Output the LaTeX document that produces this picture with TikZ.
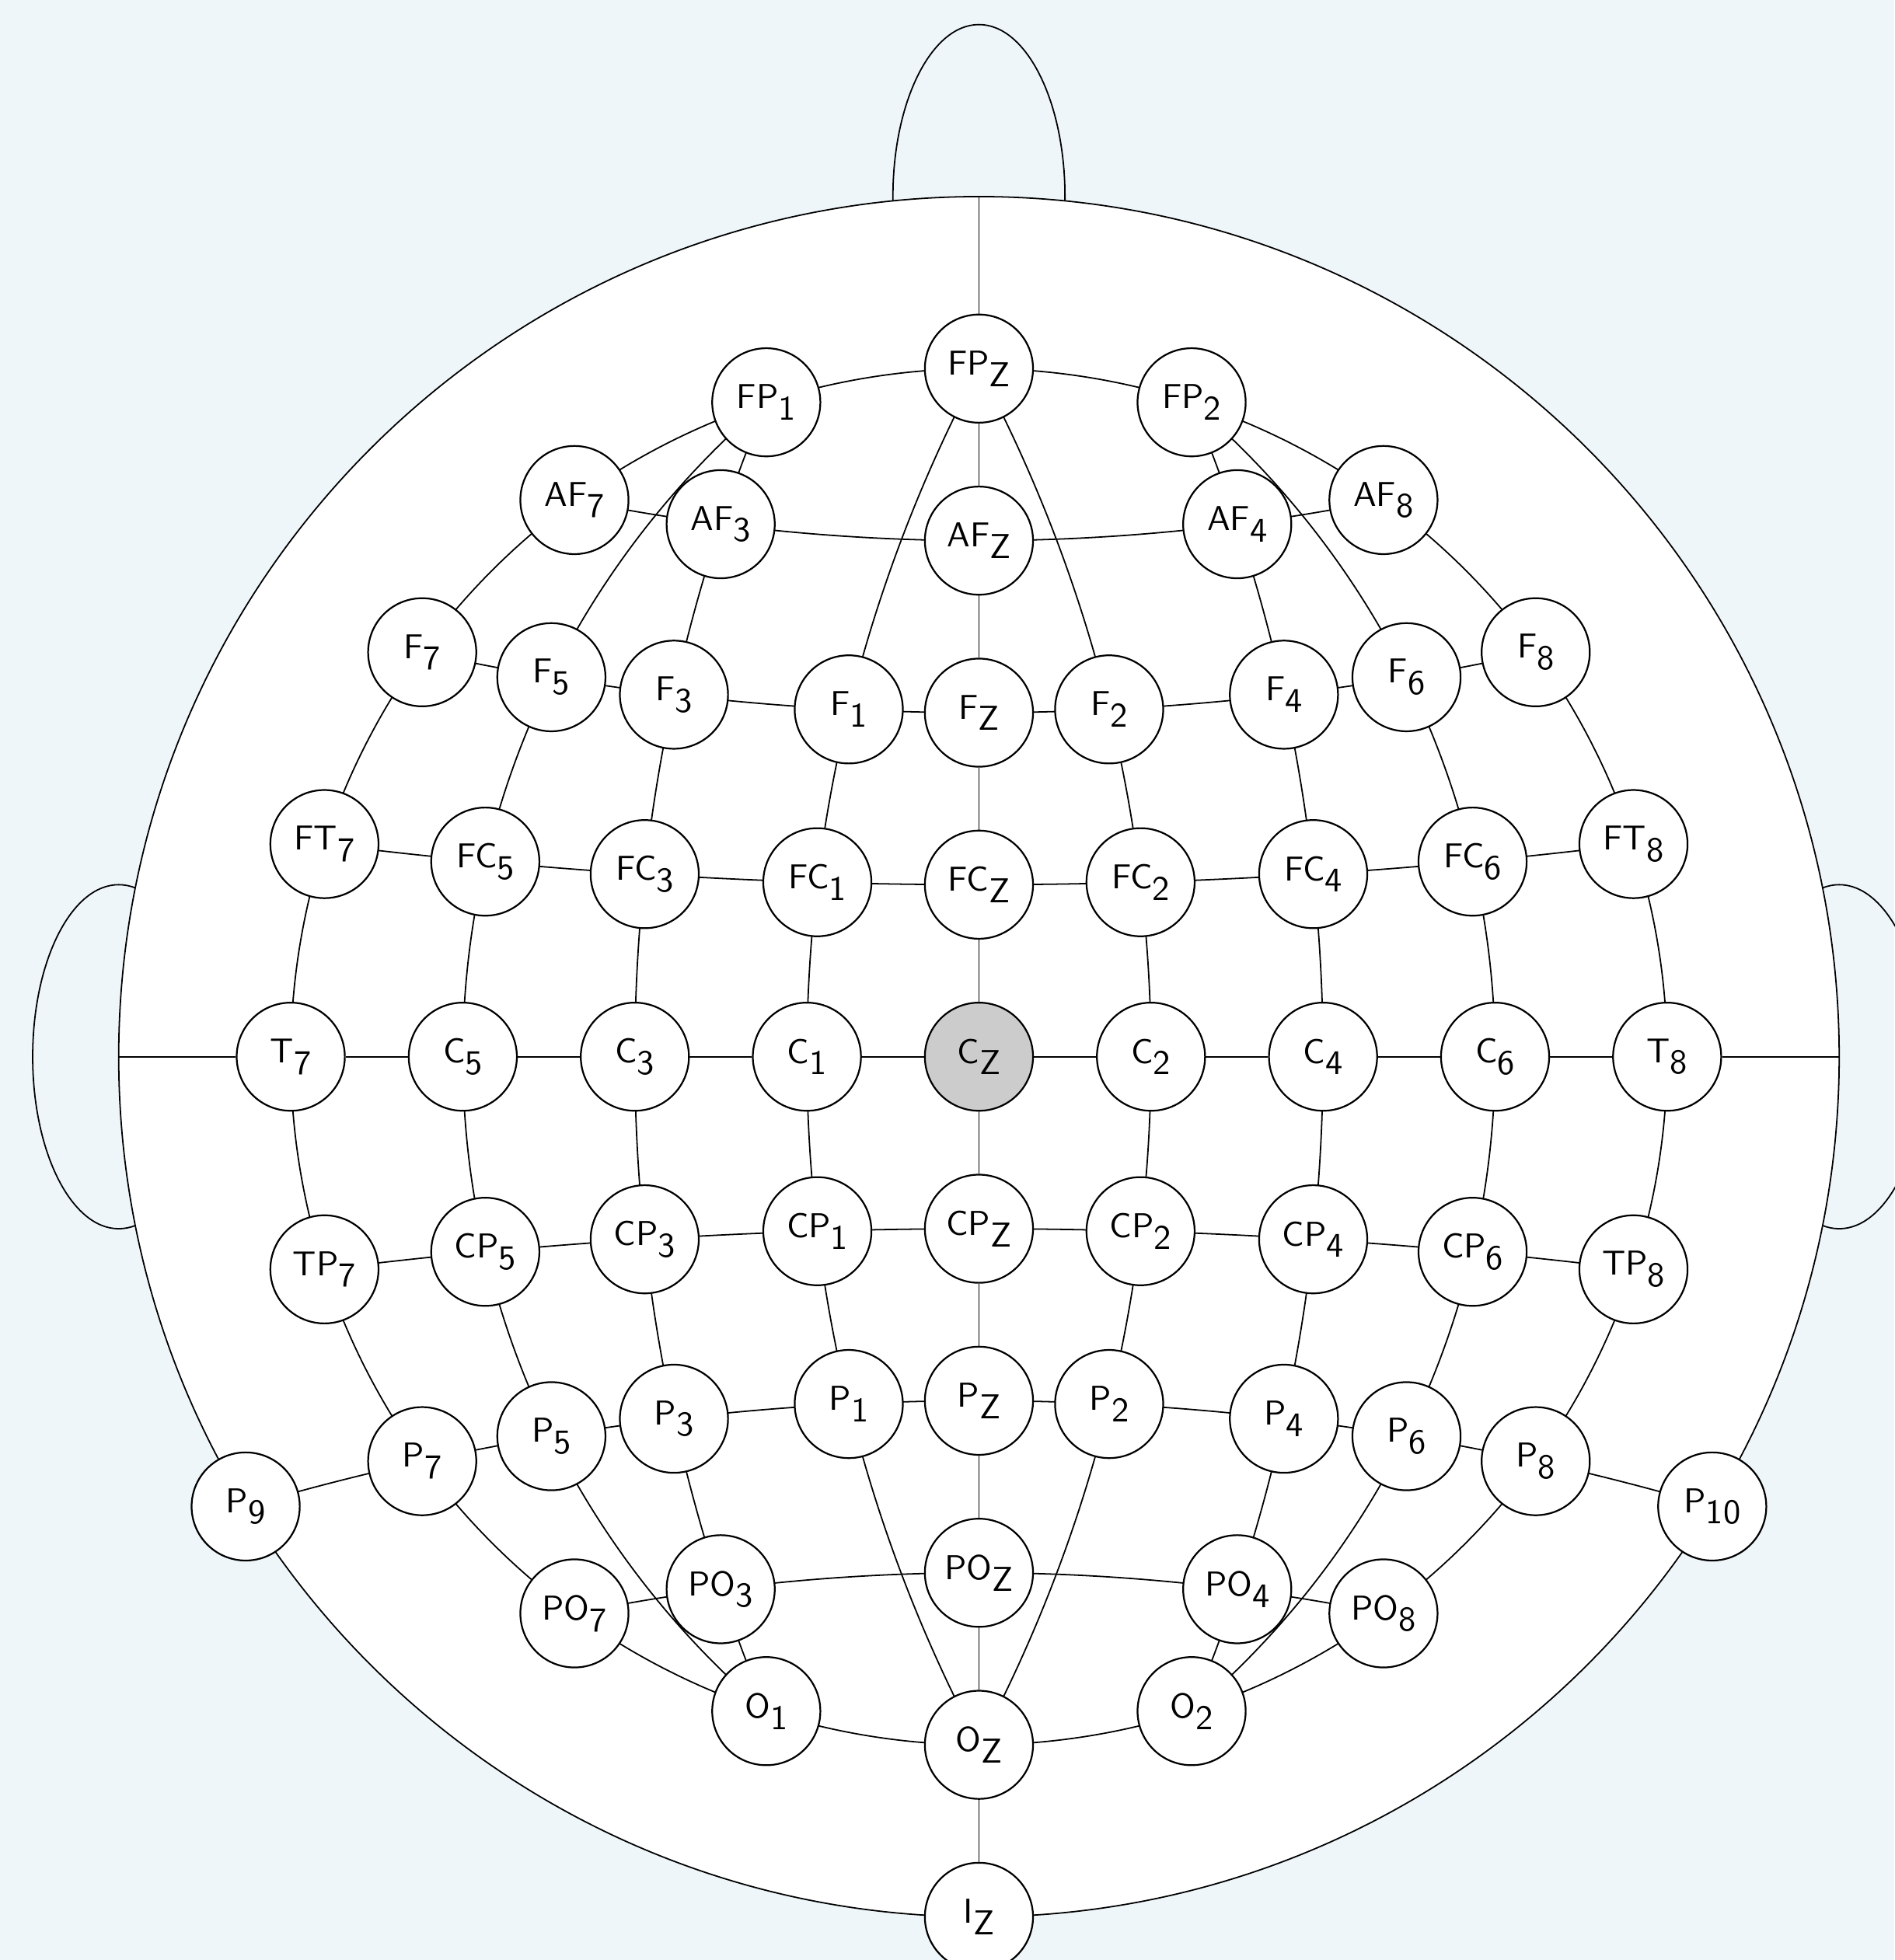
\documentclass[tikz,border=0pt]{standalone}
\usepackage{tikz}
\definecolor{bgblue}{RGB}{238,246,250}
\pgfdeclarelayer{headlayer}
\pgfdeclarelayer{linklayer}
\pgfsetlayers{headlayer,linklayer,main}
\newcommand\eeglab[2]{#1\raisebox{-3.3pt}{#2}}
\tikzset{
  electrode/.style={circle, draw, fill=white, minimum size=1.1cm, inner sep=1pt, font=\sffamily, line width=0.5pt},
  bendR/.style={bend right=#1, looseness=0.855},
  bendL/.style={bend left=#1, looseness=0.855},
}
\begin{document}
\begin{tikzpicture}[x=1.75cm, y=1.75cm, line width=0.5pt]
\useasboundingbox (-5.690,-5.251) rectangle (5.320,6.143);
\begin{pgfonlayer}{headlayer}
  \fill[bgblue] (-5.690,-5.251) rectangle (5.320,6.143);
  \draw (-5,0) ellipse [x radius=0.5, y radius=1];
  \draw (5,0) ellipse [x radius=0.5, y radius=1];
  \draw (0,5) ellipse [x radius=0.5, y radius=1];
  \draw[fill=white] (0,0) circle [radius=5];
\end{pgfonlayer}
\coordinate (headtop) at (0,5);
\coordinate (headleft) at (-5,0);
\coordinate (headright) at (5,0);
% midline
\node[electrode] (FPz) at (0,4) {\eeglab{FP}{Z}};
\node[electrode] (AFz) at (0,3) {\eeglab{AF}{Z}};
\node[electrode] (Fz) at (0,2) {\eeglab{F}{Z}};
\node[electrode] (FCz) at (0,1) {\eeglab{FC}{Z}};
\node[electrode, fill=gray!40] (Cz) at (0,0) {\eeglab{C}{Z}};
\node[electrode] (CPz) at (0,-1) {\eeglab{CP}{Z}};
\node[electrode] (Pz) at (0,-2) {\eeglab{P}{Z}};
\node[electrode] (POz) at (0,-3) {\eeglab{PO}{Z}};
\node[electrode] (Oz) at (0,-4) {\eeglab{O}{Z}};
\node[electrode] (Iz) at (0,-5) {\eeglab{I}{Z}};
% FP
\node[electrode] (FP1) at (108:4) {\eeglab{FP}{1}};
\node[electrode] (FP2) at (72:4) {\eeglab{FP}{2}};
% AF
\node[electrode] (AF7) at (126:4) {\eeglab{AF}{7}};
\node[electrode] (AF3) at (-1.5012,3.0956) {\eeglab{AF}{3}};
\node[electrode] (AF4) at (1.5012,3.0956) {\eeglab{AF}{4}};
\node[electrode] (AF8) at (54:4) {\eeglab{AF}{8}};
% F
\node[electrode] (F7) at (144:4) {\eeglab{F}{7}};
\node[electrode] (F5) at (-2.4852,2.2061) {\eeglab{F}{5}};
\node[electrode] (F3) at (-1.7727,2.1045) {\eeglab{F}{3}};
\node[electrode] (F1) at (-0.7567,2.0190) {\eeglab{F}{1}};
\node[electrode] (F2) at (0.7567,2.0190) {\eeglab{F}{2}};
\node[electrode] (F4) at (1.7727,2.1045) {\eeglab{F}{4}};
\node[electrode] (F6) at (2.4852,2.2061) {\eeglab{F}{6}};
\node[electrode] (F8) at (36:4) {\eeglab{F}{8}};
% FC
\node[electrode] (FT7) at (162:4) {\eeglab{FT}{7}};
\node[electrode] (FC5) at (-2.8693,1.1341) {\eeglab{FC}{5}};
\node[electrode] (FC3) at (-1.9427,1.0614) {\eeglab{FC}{3}};
\node[electrode] (FC1) at (-0.9393,1.0143) {\eeglab{FC}{1}};
\node[electrode] (FC2) at (0.9393,1.0143) {\eeglab{FC}{2}};
\node[electrode] (FC4) at (1.9427,1.0614) {\eeglab{FC}{4}};
\node[electrode] (FC6) at (2.8693,1.1341) {\eeglab{FC}{6}};
\node[electrode] (FT8) at (18:4) {\eeglab{FT}{8}};
% C
\node[electrode] (T7) at (-4,0) {\eeglab{T}{7}};
\node[electrode] (C5) at (-3,0) {\eeglab{C}{5}};
\node[electrode] (C3) at (-2,0) {\eeglab{C}{3}};
\node[electrode] (C1) at (-1,0) {\eeglab{C}{1}};
\node[electrode] (C2) at (1,0) {\eeglab{C}{2}};
\node[electrode] (C4) at (2,0) {\eeglab{C}{4}};
\node[electrode] (C6) at (3,0) {\eeglab{C}{6}};
\node[electrode] (T8) at (4,0) {\eeglab{T}{8}};
% CP
\node[electrode] (TP7) at (198:4) {\eeglab{TP}{7}};
\node[electrode] (CP5) at (-2.8693,-1.1341) {\eeglab{CP}{5}};
\node[electrode] (CP3) at (-1.9427,-1.0614) {\eeglab{CP}{3}};
\node[electrode] (CP1) at (-0.9393,-1.0143) {\eeglab{CP}{1}};
\node[electrode] (CP2) at (0.9393,-1.0143) {\eeglab{CP}{2}};
\node[electrode] (CP4) at (1.9427,-1.0614) {\eeglab{CP}{4}};
\node[electrode] (CP6) at (2.8693,-1.1341) {\eeglab{CP}{6}};
\node[electrode] (TP8) at (-18:4) {\eeglab{TP}{8}};
% P
\node[electrode] (P9) at (-4.2620,-2.6145) {\eeglab{P}{9}};
\node[electrode] (P7) at (216:4) {\eeglab{P}{7}};
\node[electrode] (P5) at (-2.4852,-2.2061) {\eeglab{P}{5}};
\node[electrode] (P3) at (-1.7727,-2.1045) {\eeglab{P}{3}};
\node[electrode] (P1) at (-0.7567,-2.0190) {\eeglab{P}{1}};
\node[electrode] (P2) at (0.7567,-2.0190) {\eeglab{P}{2}};
\node[electrode] (P4) at (1.7727,-2.1045) {\eeglab{P}{4}};
\node[electrode] (P6) at (2.4852,-2.2061) {\eeglab{P}{6}};
\node[electrode] (P8) at (-36:4) {\eeglab{P}{8}};
\node[electrode] (P10) at (4.2620,-2.6145) {\eeglab{P}{10}};
% PO
\node[electrode] (PO7) at (234:4) {\eeglab{PO}{7}};
\node[electrode] (PO3) at (-1.5012,-3.0956) {\eeglab{PO}{3}};
\node[electrode] (PO4) at (1.5012,-3.0956) {\eeglab{PO}{4}};
\node[electrode] (PO8) at (-54:4) {\eeglab{PO}{8}};
% O
\node[electrode] (O1) at (252:4) {\eeglab{O}{1}};
\node[electrode] (O2) at (-72:4) {\eeglab{O}{2}};

\begin{pgfonlayer}{linklayer}
% straight axes
\draw (headtop) -- (FPz) -- (AFz) -- (Fz) -- (FCz) -- (Cz) -- (CPz) -- (Pz) -- (POz) -- (Oz) -- (Iz);
\draw (headleft) -- (T7) -- (C5) -- (C3) -- (C1) -- (Cz) -- (C2) -- (C4) -- (C6) -- (T8) -- (headright);
% outer ring
\draw (FPz.center) to[bendR=9] (FP1.center) to[bendR=9] (AF7.center) to[bendR=9] (F7.center)
  to[bendR=9] (FT7.center) to[bendR=9] (T7.center) to[bendR=9] (TP7.center) to[bendR=9] (P7.center)
  to[bendR=9] (PO7.center) to[bendR=9] (O1.center) to[bendR=9] (Oz.center) to[bendR=9] (O2.center)
  to[bendR=9] (PO8.center) to[bendR=9] (P8.center) to[bendR=9] (TP8.center) to[bendR=9] (T8.center)
  to[bendR=9] (FT8.center) to[bendR=9] (F8.center) to[bendR=9] (AF8.center) to[bendR=9] (FP2.center)
  to[bendR=9] (FPz.center);
% column 1
\draw (FPz.center) to[bendR=7.17] (F1.center) to[bendR=3.44] (FC1.center) to[bendR=3.43] (C1.center)
  to[bendR=3.43] (CP1.center) to[bendR=3.44] (P1.center) to[bendR=7.17] (Oz.center);
\draw (FPz.center) to[bendL=7.17] (F2.center) to[bendL=3.44] (FC2.center) to[bendL=3.43] (C2.center)
  to[bendL=3.43] (CP2.center) to[bendL=3.44] (P2.center) to[bendL=7.17] (Oz.center);
% column 3
\draw (FP1.center) to[bendR=2.20] (AF3.center) to[bendR=2.99] (F3.center) to[bendR=3.07] (FC3.center)
  to[bendR=3.09] (C3.center) to[bendR=3.09] (CP3.center) to[bendR=3.07] (P3.center)
  to[bendR=2.99] (PO3.center) to[bendR=2.20] (O1.center);
\draw (FP2.center) to[bendL=2.20] (AF4.center) to[bendL=2.99] (F4.center) to[bendL=3.07] (FC4.center)
  to[bendL=3.09] (C4.center) to[bendL=3.09] (CP4.center) to[bendL=3.07] (P4.center)
  to[bendL=2.99] (PO4.center) to[bendL=2.20] (O2.center);
% column 5
\draw (FP1.center) to[bendR=11.74] (F5.center) to[bendR=6.56] (FC5.center) to[bendR=6.58] (C5.center)
  to[bendR=6.58] (CP5.center) to[bendR=6.56] (P5.center) to[bendR=11.74] (O1.center);
\draw (FP2.center) to[bendL=11.74] (F6.center) to[bendL=6.56] (FC6.center) to[bendL=6.58] (C6.center)
  to[bendL=6.58] (CP6.center) to[bendL=6.56] (P6.center) to[bendL=11.74] (O2.center);
% rows (front)
\draw (AF7.center) to[bendR=2.09] (AF3.center) to[bendR=3.65] (AFz.center) to[bendR=3.65] (AF4.center) to[bendR=2.09] (AF8.center);
\draw (F7.center) to[bendR=1.45] (F5.center) to[bendR=1.37] (F3.center) to[bendR=1.94] (F1.center) to[bendR=1.44] (Fz.center)
  to[bendR=1.44] (F2.center) to[bendR=1.94] (F4.center) to[bendR=1.37] (F6.center) to[bendR=1.45] (F8.center);
\draw (FT7.center) to[bendR=0.88] (FC5.center) to[bendR=0.87] (FC3.center) to[bendR=0.94] (FC1.center) to[bendR=0.87] (FCz.center)
  to[bendR=0.87] (FC2.center) to[bendR=0.94] (FC4.center) to[bendR=0.87] (FC6.center) to[bendR=0.88] (FT8.center);
% rows (back)
\draw (TP7.center) to[bendL=0.88] (CP5.center) to[bendL=0.87] (CP3.center) to[bendL=0.94] (CP1.center) to[bendL=0.87] (CPz.center)
  to[bendL=0.87] (CP2.center) to[bendL=0.94] (CP4.center) to[bendL=0.87] (CP6.center) to[bendL=0.88] (TP8.center);
\draw (P9.center) to[bendL=2.01] (P7.center) to[bendL=1.45] (P5.center) to[bendL=1.37] (P3.center) to[bendL=1.94] (P1.center)
  to[bendL=1.44] (Pz.center) to[bendL=1.44] (P2.center) to[bendL=1.94] (P4.center) to[bendL=1.37] (P6.center)
  to[bendL=1.45] (P8.center) to[bendL=2.01] (P10.center);
\draw (PO7.center) to[bendL=2.09] (PO3.center) to[bendL=3.65] (POz.center) to[bendL=3.65] (PO4.center) to[bendL=2.09] (PO8.center);
\end{pgfonlayer}
\end{tikzpicture}
\end{document}
